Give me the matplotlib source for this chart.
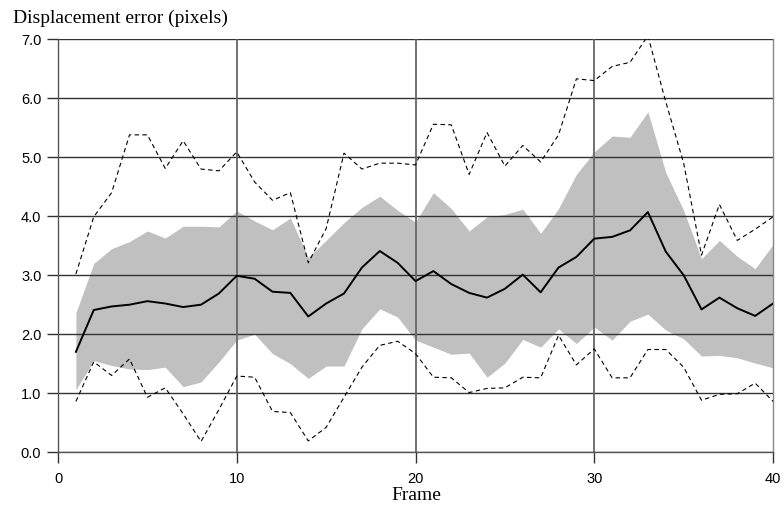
import numpy as np
import matplotlib
matplotlib.use('Agg')
import matplotlib.pyplot as plt

# Waarden (frame 1..40)
frames = np.arange(1, 41)
mean_err = [1.70, 2.41, 2.47, 2.50, 2.56, 2.52, 2.46, 2.50, 2.69, 2.99,
            2.94, 2.72, 2.70, 2.30, 2.52, 2.69, 3.13, 3.41, 3.21, 2.90,
            3.07, 2.85, 2.70, 2.62, 2.77, 3.01, 2.71, 3.13, 3.31, 3.62,
            3.65, 3.76, 4.07, 3.40, 3.00, 2.42, 2.62, 2.44, 2.31, 2.52]
band_hi = [2.36, 3.20, 3.45, 3.57, 3.75, 3.63, 3.83, 3.83, 3.82, 4.09,
           3.92, 3.77, 3.97, 3.30, 3.59, 3.89, 4.15, 4.34, 4.10, 3.90,
           4.40, 4.13, 3.75, 3.99, 4.03, 4.12, 3.71, 4.13, 4.71, 5.09,
           5.36, 5.34, 5.77, 4.74, 4.10, 3.28, 3.59, 3.32, 3.11, 3.52]
band_lo = [1.06, 1.55, 1.47, 1.41, 1.40, 1.44, 1.11, 1.19, 1.53, 1.90,
           2.00, 1.67, 1.50, 1.25, 1.46, 1.46, 2.09, 2.43, 2.29, 1.90,
           1.78, 1.66, 1.68, 1.27, 1.51, 1.91, 1.78, 2.09, 1.84, 2.12,
           1.90, 2.22, 2.34, 2.07, 1.92, 1.63, 1.64, 1.60, 1.51, 1.43]
max_err = [3.02, 3.99, 4.40, 5.38, 5.38, 4.81, 5.28, 4.80, 4.77, 5.09,
           4.58, 4.27, 4.40, 3.21, 3.79, 5.07, 4.80, 4.90, 4.90, 4.87,
           5.56, 5.55, 4.71, 5.42, 4.85, 5.20, 4.92, 5.38, 6.33, 6.30,
           6.54, 6.61, 7.06, 5.94, 4.90, 3.34, 4.20, 3.59, 3.78, 3.99]
min_err = [0.86, 1.53, 1.30, 1.58, 0.93, 1.09, 0.65, 0.18, 0.72, 1.29,
           1.27, 0.69, 0.67, 0.19, 0.42, 0.93, 1.44, 1.81, 1.88, 1.67,
           1.27, 1.26, 1.01, 1.08, 1.09, 1.27, 1.26, 1.98, 1.48, 1.75,
           1.26, 1.26, 1.74, 1.74, 1.44, 0.88, 0.98, 0.99, 1.17, 0.86]

fig = plt.figure(figsize=(7.84, 5.08), dpi=100)
ax = fig.add_axes([0.074, 0.110, 0.912, 0.8126])

ax.fill_between(frames, band_lo, band_hi, color='#c0c0c0', linewidth=0, zorder=1)
ax.plot(frames, mean_err, color='black', linewidth=1.4, zorder=3)
ax.plot(frames, max_err, color='black', linewidth=0.8, linestyle=(0, (4, 3)), zorder=3)
ax.plot(frames, min_err, color='black', linewidth=0.8, linestyle=(0, (4, 3)), zorder=3)

# Rasterlijnen
for yv in range(0, 8):
    ax.axhline(yv, color='#333333', linewidth=1.0, zorder=2)
for xv in (10, 20, 30):
    ax.axvline(xv, color='#666666', linewidth=1.3, zorder=2)

ax.set_xlim(0, 40)
ax.set_ylim(0, 7)
ax.set_xticks([0, 10, 20, 30, 40])
ax.set_yticks(range(0, 8))
ax.set_yticklabels(['%.1f' % v for v in range(0, 8)])
ax.tick_params(direction='out', length=8, width=1, colors='#333333',
               labelcolor='black', labelsize=10.5)
ax.tick_params(axis='x', pad=6)
ax.tick_params(axis='y', pad=4)
for lab in ax.get_xticklabels() + ax.get_yticklabels():
    lab.set_fontfamily('Liberation Sans')

for side in ['top', 'right', 'bottom', 'left']:
    ax.spines[side].set_color('#555555')
    ax.spines[side].set_linewidth(1.0)
ax.spines['top'].set_visible(False)
ax.spines['right'].set_color('#888888')

fig.text(0.016, 0.964, 'Displacement error (pixels)', fontfamily='Liberation Serif',
         fontsize=14, ha='left', va='center')
fig.text(0.531, 0.016, 'Frame', fontfamily='Liberation Serif',
         fontsize=14, ha='center', va='baseline')

fig.savefig('out.png', dpi=100)
